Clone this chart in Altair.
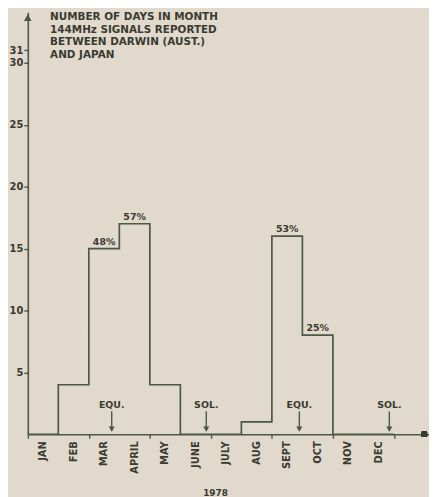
import altair as alt
import pandas as pd

# ---- data ----
months = ["JAN", "FEB", "MAR", "APRIL", "MAY", "JUNE", "JULY", "AUG", "SEPT", "OCT", "NOV", "DEC"]
days = [0, 4, 15, 17, 4, 0, 0, 1, 16, 8, 0, 0]
pct_months = ["MAR", "APRIL", "SEPT", "OCT"]
pct_labels = ["48%", "57%", "53%", "25%"]
event_labels = ["EQU.", "SOL.", "EQU.", "SOL."]
event_pos = [2.75, 5.85, 8.9, 11.85]  # months since 1 Jan
y_ticks = [5, 10, 15, 20, 25, 30, 31]
title_lines = ["NUMBER OF DAYS IN MONTH", "144MHz SIGNALS REPORTED",
               "BETWEEN DARWIN (AUST.)", "AND JAPAN"]
year = "1978"

LINE = "#4a5845"
TEXT = "#3a3a32"
BG = "#e1d9cb"
FONT = "DejaVu Sans"

step_df = pd.DataFrame({"m": list(range(13)), "d": days + [days[-1]]})
month_df = pd.DataFrame({"c": [i + 0.5 for i in range(12)], "name": months})
pct_df = pd.DataFrame({
    "c": [months.index(m) + 0.5 for m in pct_months],
    "d": [days[months.index(m)] for m in pct_months],
    "lab": pct_labels,
})
ev_df = pd.DataFrame({"x": event_pos, "lab": event_labels,
                      "top": [1.85] * 4, "bot": [0.3] * 4,
                      "head": [0.42] * 4, "ty": [2.4] * 4})

xscale = alt.Scale(domain=[0, 13.15], nice=False, zero=False)
yscale = alt.Scale(domain=[0, 34.08], nice=False, zero=False)

xaxis = alt.Axis(values=list(range(13)), labels=False, grid=False,
                 domainColor=LINE, domainWidth=1.6, tickColor=LINE,
                 tickSize=4, tickWidth=1.4,
                 title=year, titleX=189, titleY=62, titleAlign="center",
                 titleBaseline="alphabetic", titleFont=FONT, titleFontSize=9,
                 titleFontWeight="bold", titleColor=TEXT)
yaxis = alt.Axis(values=y_ticks, grid=False, domainColor=LINE, domainWidth=1.6,
                 tickColor=LINE, tickSize=4, tickWidth=1.4,
                 labelFont=FONT, labelFontSize=10, labelFontWeight="bold",
                 labelColor=TEXT, labelPadding=1,
                 title=title_lines, titleAngle=0, titleAlign="left",
                 titleBaseline="top", titleX=22, titleY=-1, titleFont=FONT,
                 titleFontSize=10.5, titleFontWeight="bold", titleColor=TEXT,
                 titleLineHeight=13)

line = alt.Chart(step_df).mark_line(interpolate="step-after", color=LINE,
                                    strokeWidth=1.7).encode(
    x=alt.X("m:Q", scale=xscale, axis=xaxis),
    y=alt.Y("d:Q", scale=yscale, axis=yaxis),
)

month_text = alt.Chart(month_df).mark_text(
    angle=270, align="right", baseline="middle", font=FONT, fontSize=10,
    fontWeight="bold", color=TEXT).encode(
    x=alt.X("c:Q", scale=xscale),
    y=alt.datum(0, scale=yscale),
    yOffset=alt.value(7),
    text="name:N",
)

pct_text = alt.Chart(pct_df).mark_text(
    baseline="alphabetic", dy=-4, font=FONT, fontSize=9.5, fontWeight="bold",
    color=TEXT).encode(
    x=alt.X("c:Q", scale=xscale),
    y=alt.Y("d:Q", scale=yscale),
    text="lab:N",
)

ev_rule = alt.Chart(ev_df).mark_rule(color=LINE, strokeWidth=1.4).encode(
    x=alt.X("x:Q", scale=xscale),
    y=alt.Y("top:Q", scale=yscale),
    y2="bot:Q",
)
ev_head = alt.Chart(ev_df).mark_point(shape="triangle-down", filled=True,
                                      size=38, color=LINE, opacity=1).encode(
    x=alt.X("x:Q", scale=xscale),
    y=alt.Y("head:Q", scale=yscale),
)
ev_text = alt.Chart(ev_df).mark_text(
    baseline="middle", font=FONT, fontSize=9.5, fontWeight="bold",
    color=TEXT).encode(
    x=alt.X("x:Q", scale=xscale),
    y=alt.Y("ty:Q", scale=yscale),
    text="lab:N",
)

y_arrow = alt.Chart(step_df).mark_point(shape="triangle-up", filled=True,
                                        size=45, color=LINE, opacity=1).encode(
    x=alt.datum(0, scale=xscale),
    y=alt.datum(33.6, scale=yscale),
)
x_arrow = alt.Chart(step_df).mark_point(shape="square", filled=True,
                                        size=28, color="#333a30", opacity=1).encode(
    x=alt.datum(13.0, scale=xscale),
    y=alt.datum(0, scale=yscale),
)

chart = alt.layer(line, month_text, pct_text, ev_rule, ev_head, ev_text,
                  y_arrow, x_arrow).properties(
    width=405, height=426,
    padding={"left": 20, "top": 2, "right": 0, "bottom": 61},
    autosize=alt.AutoSizeParams(type="none"),
    background=BG,
).configure_view(stroke=None)

chart.save("out.html", embed_options={"renderer": "svg", "actions": False})
